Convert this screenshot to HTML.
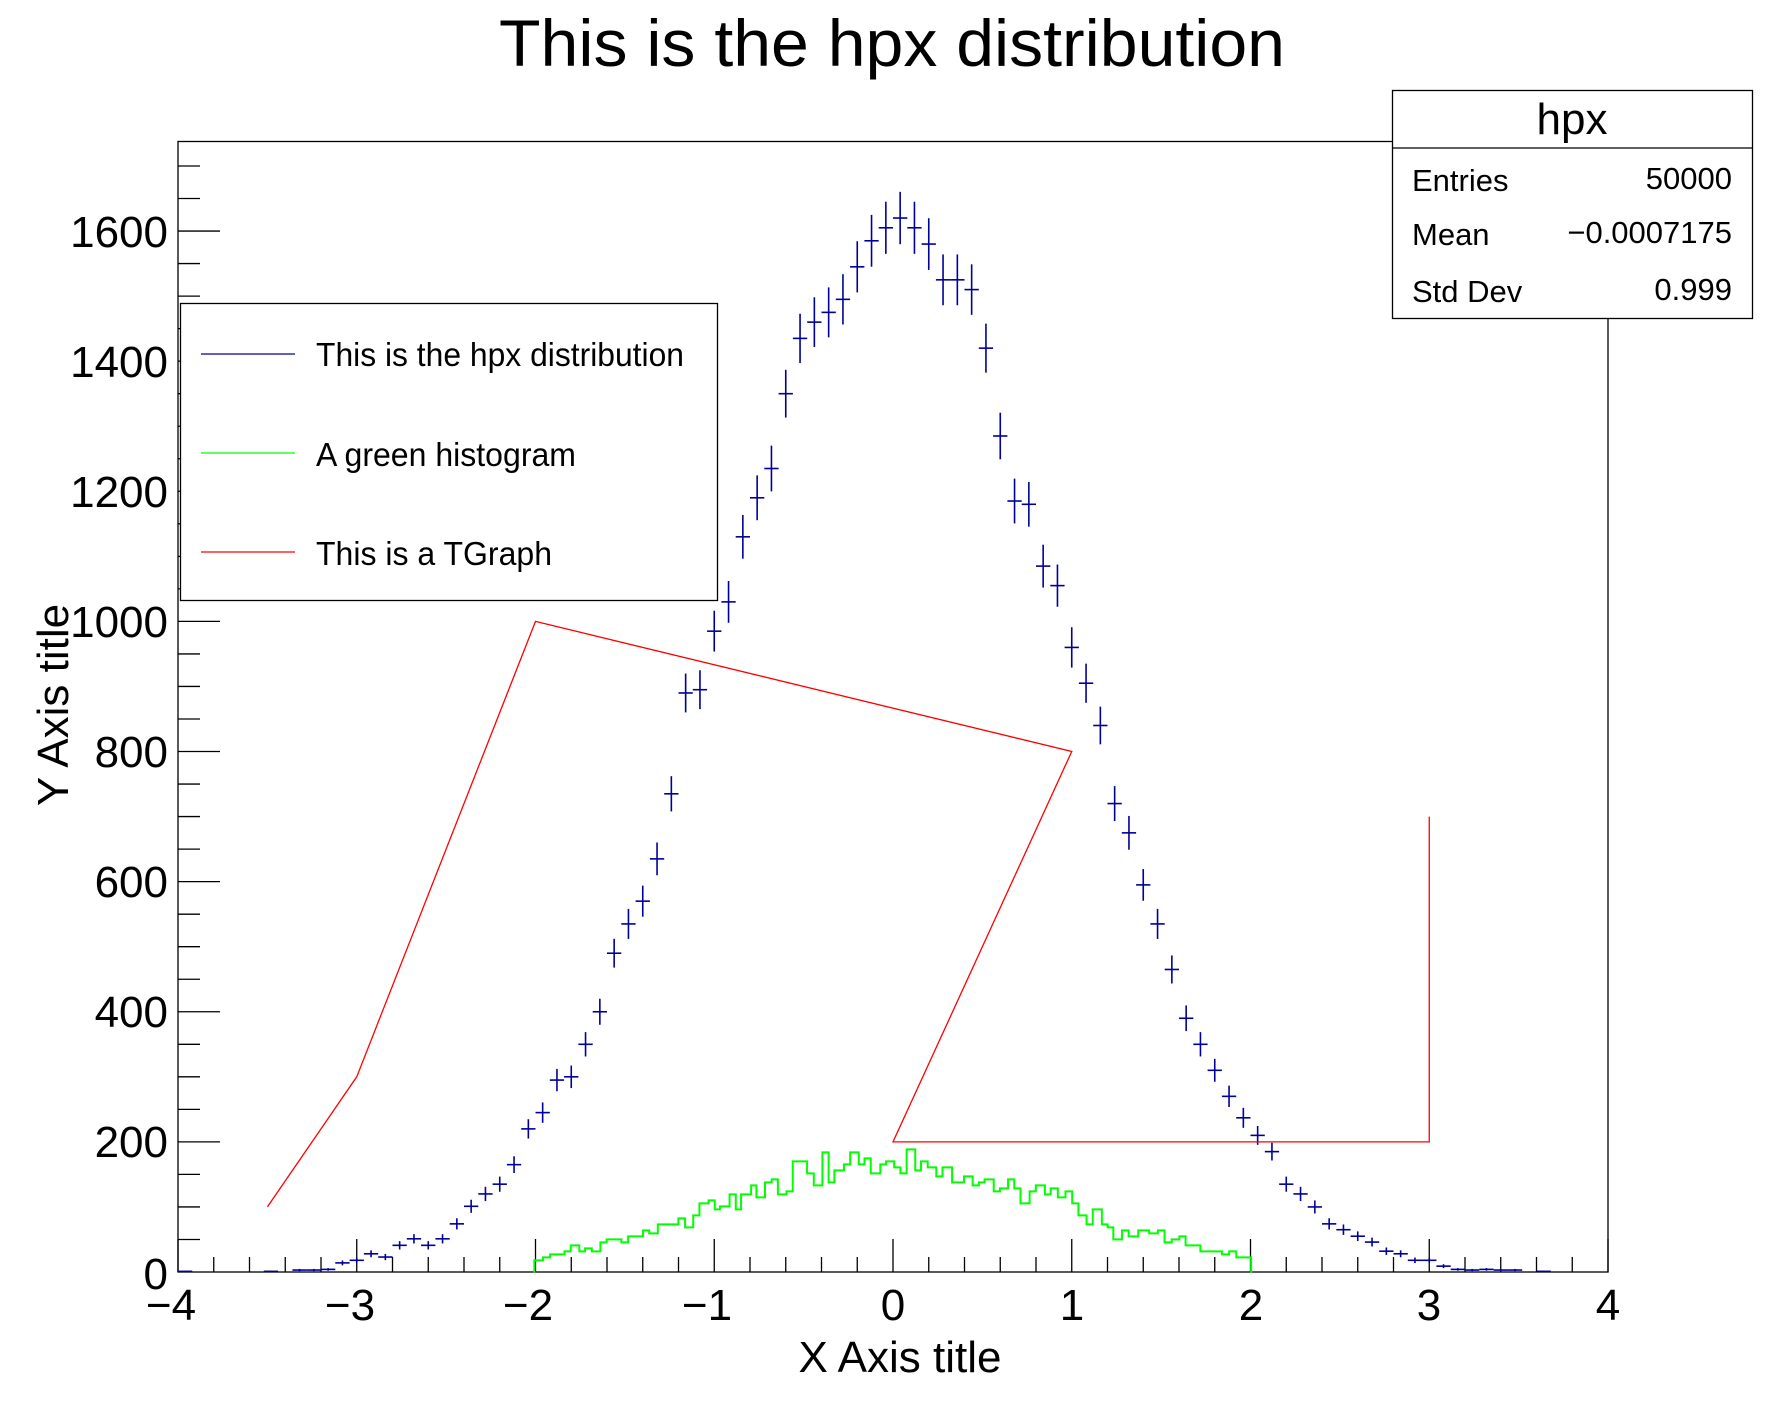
<!DOCTYPE html>
<html><head><meta charset="utf-8"><style>
html,body{margin:0;padding:0;background:#fff;}
svg{display:block;font-family:"Liberation Sans",Arial,sans-serif;}
</style></head><body>
<svg id="s" width="1788" height="1416" viewBox="0 0 1788 1416" xmlns="http://www.w3.org/2000/svg">
<rect width="1788" height="1416" fill="#fff"/>
<text x="892" y="66" font-size="66" text-anchor="middle" textLength="786" lengthAdjust="spacingAndGlyphs">This is the hpx distribution</text>
<rect x="178" y="141.5" width="1430" height="1130.5" fill="none" stroke="#000" stroke-width="1.3"/>
<g id="ticks" stroke="#000" stroke-width="1.3"></g>
<g font-size="44" text-anchor="end">
<text x="168" y="1289">0</text>
<text x="168" y="1157">200</text>
<text x="168" y="1027">400</text>
<text x="168" y="897">600</text>
<text x="168" y="767">800</text>
<text x="168" y="637">1000</text>
<text x="168" y="507">1200</text>
<text x="168" y="377">1400</text>
<text x="168" y="247">1600</text>
</g>
<g font-size="44" text-anchor="middle">
<text x="171" y="1320">−4</text>
<text x="350" y="1320">−3</text>
<text x="528" y="1320">−2</text>
<text x="707" y="1320">−1</text>
<text x="893" y="1320">0</text>
<text x="1072" y="1320">1</text>
<text x="1251" y="1320">2</text>
<text x="1429" y="1320">3</text>
<text x="1608" y="1320">4</text>
</g>
<text x="900" y="1372" font-size="44" text-anchor="middle">X Axis title</text>
<text transform="translate(68,705) rotate(-90)" font-size="44" text-anchor="middle">Y Axis title</text>
<path id="green" fill="none" stroke="#00ff00" stroke-width="2" vector-effect="non-scaling-stroke" transform="translate(520,1130) scale(0.4785,0.33333)"
d="M30,427 L30,391 H48 V382 H63 V373 H93 V364 H106 V346 H124 V364 H136 V355 H150 V364 H168 V337 H181 V328 H212 V337 H226 V319 H257 V301 H270 V310 H288 V283 H331 V265 H345 V292 H362 V256 H375 V220 H394 V211 H407 V238 H418 V229 H438 V193 H451 V238 H462 V193 H483 V166 H494 V202 H512 V157 H526 V148 H539 V193 H557 V184 H570 V94 H600 V130 H614 V166 H632 V67 H645 V157 H657 V121 H677 V103 H690 V67 H708 V103 H720 V85 H733 V130 H753 V103 H765 V94 H782 V112 H795 V130 H808 V58 H826 V121 H838 V94 H852 V112 H870 V139 H883 V112 H903 V157 H928 V139 H946 V166 H959 V157 H971 V148 H990 V184 H1003 V175 H1020 V148 H1033 V175 H1046 V220 H1065 V184 H1078 V166 H1097 V193 H1109 V175 H1124 V202 H1140 V184 H1154 V220 H1167 V256 H1184 V283 H1197 V238 H1216 V283 H1228 V292 H1240 V328 H1258 V301 H1272 V319 H1292 V301 H1315 V310 H1333 V301 H1347 V337 H1362 V328 H1378 V319 H1391 V346 H1422 V364 H1467 V373 H1482 V364 H1497 V382 H1528 V427"/>
<g id="blue" stroke="#000099" stroke-width="1.6"></g>
<polyline fill="none" stroke="#ff0000" stroke-width="1.3" points="267.4,1206.9 356.75,1076.8 535.5,621.4 1071.75,751.5 893,1141.9 1429.25,1141.9 1429.25,816.6"/>
<rect x="180.5" y="303.5" width="537" height="297" fill="#fff" stroke="#000" stroke-width="1.3"/>
<line x1="201" y1="354" x2="295" y2="354" stroke="#000099" stroke-width="1.3"/>
<line x1="201" y1="453" x2="295" y2="453" stroke="#00ff00" stroke-width="1.3"/>
<line x1="201" y1="552" x2="295" y2="552" stroke="#ff0000" stroke-width="1.3"/>
<g font-size="33">
<text x="316" y="366" textLength="368" lengthAdjust="spacingAndGlyphs">This is the hpx distribution</text>
<text x="316" y="466" textLength="260" lengthAdjust="spacingAndGlyphs">A green histogram</text>
<text x="316" y="565" textLength="236" lengthAdjust="spacingAndGlyphs">This is a TGraph</text>
</g>
<rect x="1392.5" y="90.5" width="360" height="228" fill="#fff" stroke="#000" stroke-width="1.3"/>
<line x1="1392.5" y1="148" x2="1752.5" y2="148" stroke="#000" stroke-width="1.3"/>
<text x="1572" y="134" font-size="44" text-anchor="middle">hpx</text>
<g font-size="31">
<text x="1412" y="191">Entries</text>
<text x="1412" y="245">Mean</text>
<text x="1412" y="302">Std Dev</text>
<g text-anchor="end">
<text x="1732" y="189">50000</text>
<text x="1732" y="243">−0.0007175</text>
<text x="1732" y="300">0.999</text>
</g>
</g>
</svg>
<script>
(function(){
var NS="http://www.w3.org/2000/svg";
function X(x){return 178+(x+4)*178.75;}
function Y(v){return 1272-v*0.6506;}
function ln(g,x1,y1,x2,y2){var l=document.createElementNS(NS,"line");l.setAttribute("x1",x1);l.setAttribute("y1",y1);l.setAttribute("x2",x2);l.setAttribute("y2",y2);g.appendChild(l);}
var t=document.getElementById("ticks");
for(var k=0;k<=40;k++){var x=X(-4+k*0.2);ln(t,x,1272,x,1272-(k%5==0?33:15));}
for(var v=50;v<=1700;v+=50){var y=Y(v);ln(t,178,y,178+(v%200==0?42:22),y);}
var d=[1,0,0,0,0,0,1,0,3,3,4,14,18,28,23,41,51,41,51,74,101,120,135,165,220,245,295,300,350,400,490,535,570,635,735,890,895,985,1030,1130,1190,1235,1350,1435,1460,1475,1495,1545,1585,1605,1620,1605,1580,1525,1525,1510,1420,1285,1185,1180,1085,1055,960,905,840,720,675,595,535,465,390,350,310,270,237,210,185,135,120,100,74,65,55,46,32,28,18,18,9,4,3,4,3,3,0,1,0,0,0,0];
var b=document.getElementById("blue");
for(var i=0;i<100;i++){var n=d[i];if(n<=0)continue;var xl=X(-4+0.08*i),xr=X(-4+0.08*(i+1)),xc=(xl+xr)/2,e=Math.sqrt(n);
ln(b,xl,Y(n),xr,Y(n));ln(b,xc,Y(Math.max(0,n-e)),xc,Y(n+e));}
})();
</script>
</body></html>
